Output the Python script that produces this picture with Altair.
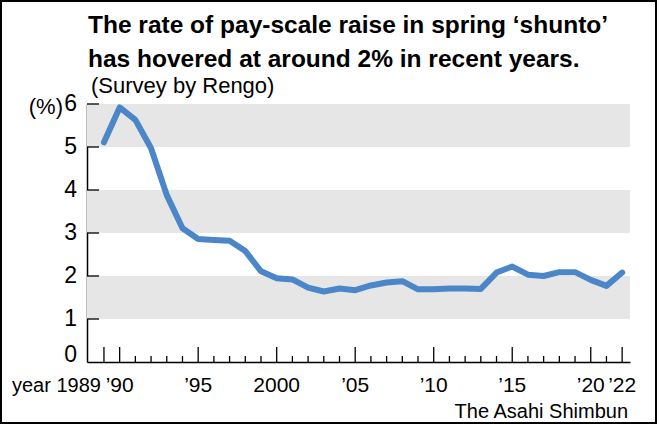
import altair as alt
import pandas as pd

FONT = "Liberation Sans, Arial, sans-serif"

years = list(range(1989, 2023))
values = [5.11, 5.92, 5.63, 4.97, 3.88, 3.11, 2.86, 2.84, 2.82, 2.58,
          2.11, 1.95, 1.92, 1.73, 1.64, 1.71, 1.67, 1.78, 1.85, 1.88,
          1.69, 1.69, 1.71, 1.71, 1.70, 2.08, 2.22, 2.03, 2.00, 2.09,
          2.09, 1.91, 1.77, 2.08]

band_lo = [1, 3, 5]
band_hi = [2, 4, 6]

y_tick_vals = [1, 2, 3, 4, 5, 6]
y_label_vals = [1, 2, 3, 4, 5, 6]
y_label_text = ["1", "2", "3", "4", "5", "6"]

major_years = [1989, 1990, 1995, 2000, 2005, 2010, 2015, 2020, 2022]
minor_years = [y for y in years if y not in major_years]
x_label_years = [1990, 1995, 2000, 2005, 2010, 2015, 2020, 2022]
x_label_text = ["\u201990", "\u201995", "2000", "\u201905", "\u201910", "\u201915", "\u201920", "\u201922"]

title1 = "The rate of pay-scale raise in spring \u2018shunto\u2019"
title2 = "has hovered at around 2% in recent years."
subtitle = "(Survey by Rengo)"
credit = "The Asahi Shimbun"

W, H = 543, 258
xs = alt.Scale(domain=[1987.92, 2022.5], nice=False, zero=False)
ys = alt.Scale(domain=[0, 6], nice=False)

df = pd.DataFrame({"year": years, "value": values})
bands = pd.DataFrame({"lo": band_lo, "hi": band_hi})

band_layer = alt.Chart(bands).mark_rect(color="#e6e6e6").encode(
    x=alt.value(0), x2=alt.value(W),
    y=alt.Y("lo:Q", scale=ys), y2="hi:Q")

line = alt.Chart(df).mark_line(color="#4a86c8", strokeWidth=6,
                               strokeJoin="round", strokeCap="round").encode(
    x=alt.X("year:Q", scale=xs,
            axis=alt.Axis(labels=False, ticks=False, grid=False, title=None,
                          domainColor="black", domainWidth=1.5)),
    y=alt.Y("value:Q", scale=ys,
            axis=alt.Axis(labels=False, ticks=False, grid=False, title=None,
                          domainColor="black", domainWidth=1.5)))

ytick = alt.Chart(pd.DataFrame({"v": y_tick_vals})).mark_rule(
    color="black", strokeWidth=1.3).encode(
    y=alt.Y("v:Q", scale=ys), x=alt.value(0), x2=alt.value(12))

xmaj = alt.Chart(pd.DataFrame({"yr": major_years})).mark_rule(
    color="black", strokeWidth=1.3).encode(
    x=alt.X("yr:Q", scale=xs), y=alt.value(H), y2=alt.value(H - 15))
xmin = alt.Chart(pd.DataFrame({"yr": minor_years})).mark_rule(
    color="black", strokeWidth=1.3).encode(
    x=alt.X("yr:Q", scale=xs), y=alt.value(H), y2=alt.value(H - 6))

ylab = alt.Chart(pd.DataFrame({"v": y_label_vals, "t": y_label_text})).mark_text(
    font=FONT, fontSize=23, align="right", baseline="middle", dx=-10,
    color="black").encode(
    y=alt.Y("v:Q", scale=ys), x=alt.value(0), text="t:N")
ylab0 = alt.Chart(pd.DataFrame({"v": [0], "t": ["0"]})).mark_text(
    font=FONT, fontSize=23, align="right", baseline="alphabetic", dx=-10,
    color="black").encode(
    y=alt.Y("v:Q", scale=ys), x=alt.value(0), text="t:N")

xlab = alt.Chart(pd.DataFrame({"yr": x_label_years, "t": x_label_text})).mark_text(
    font=FONT, fontSize=21, align="center", baseline="alphabetic",
    color="black").encode(
    x=alt.X("yr:Q", scale=xs), y=alt.value(H + 30), text="t:N")
xlab89 = alt.Chart(pd.DataFrame({"yr": [1989], "t": ["year 1989"]})).mark_text(
    font=FONT, fontSize=20, align="right", baseline="alphabetic", dx=-3,
    color="black").encode(
    x=alt.X("yr:Q", scale=xs), y=alt.value(H + 30), text="t:N")

one = pd.DataFrame({"a": [0]})


def label(text, x, y, size, align="left", weight="normal", baseline="alphabetic"):
    return alt.Chart(one).mark_text(
        text=text, font=FONT, fontSize=size, fontWeight=weight, align=align,
        baseline=baseline, color="black").encode(x=alt.value(x), y=alt.value(y))


t1 = label(title1, 1, -71, 24.5, weight="bold")
t2 = label(title2, 1, -37, 24.5, weight="bold")
sub = label(subtitle, 4, -11, 22)
pct = label("(%)", -24, 3, 22, align="right", baseline="middle")
cred = label(credit, 541, 314, 20, align="right")

frame = alt.Chart(one).mark_rect(filled=False, stroke="black", strokeWidth=2).encode(
    x=alt.value(-86), x2=alt.value(569), y=alt.value(-103), y2=alt.value(319))

chart = alt.layer(band_layer, line, ytick, xmaj, xmin, ylab, ylab0, xlab, xlab89,
                  t1, t2, sub, pct, cred, frame).properties(
    width=W, height=H,
    autosize=alt.AutoSizeParams(type="none"),
    padding={"left": 87, "top": 104, "right": 30, "bottom": 63},
    background="white",
).configure_view(stroke=None)

chart.save("out.html", embed_options={"renderer": "svg", "actions": False})
